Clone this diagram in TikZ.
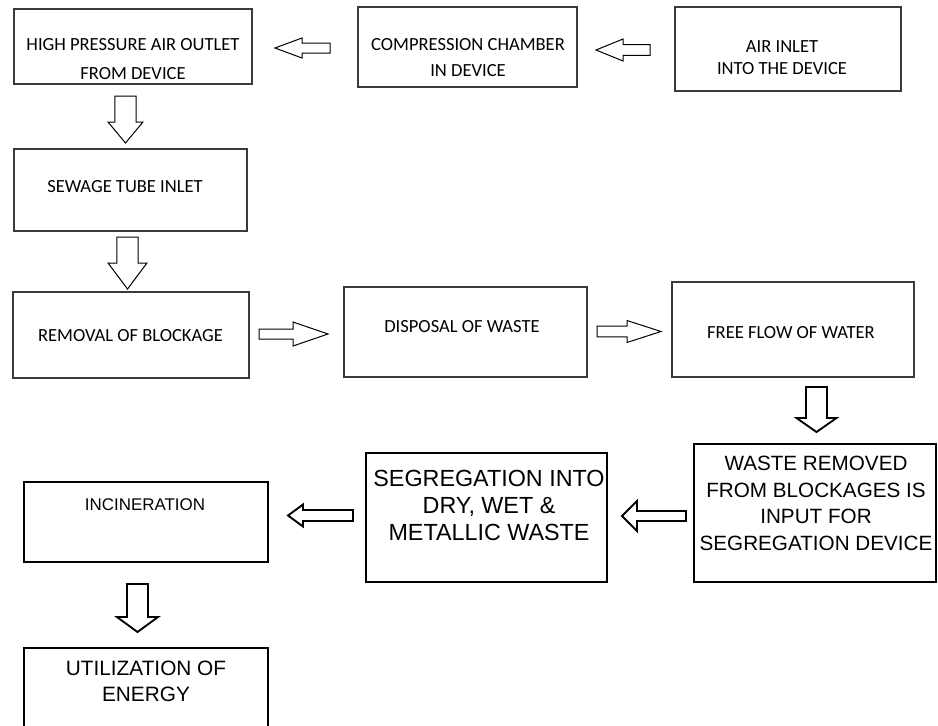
\documentclass[tikz,border=0pt]{standalone}
\usepackage{fontspec}
\setmainfont{Carlito}
\newfontfamily\arialf{Liberation Sans}
\usetikzlibrary{calc}
\definecolor{boxgray}{HTML}{3A3A3A}
\definecolor{txtc}{HTML}{000000}
\tikzset{
  topbox/.style={draw=boxgray, line width=0.9pt, inner sep=0pt, outer sep=0pt},
  botbox/.style={draw=black, line width=1.4pt, inner sep=0pt, outer sep=0pt},
  toptxt/.style={inner sep=0pt, text=txtc, align=center},
  bottxt/.style={inner sep=0pt, text=txtc, align=center},
  toparr/.style={draw=black, line width=0.75pt, fill=white, line join=miter},
  botarr/.style={draw=black, line width=1.4pt, fill=white, line join=miter},
}
\newcommand\blockarrow[6]{%
  \coordinate (hb) at ($(#3)!#6!(#2)$);
  \draw[#1] ($(#2)!#4!90:(#3)$) -- ($(hb)!#4!90:(#3)$) -- ($(hb)!#5!90:(#3)$) -- (#3)
    -- ($(hb)!#5!-90:(#3)$) -- ($(hb)!#4!-90:(#3)$) -- ($(#2)!#4!-90:(#3)$) -- cycle;
}
\begin{document}
\begin{tikzpicture}[x=0.75pt,y=-0.75pt]
\useasboundingbox (0,0) rectangle (938,725);
\fill[white] (0,0) rectangle (938,725);
\clip (0,0) rectangle (938,725);

% boxes
\node[topbox, minimum width=178.5pt, minimum height=56.25pt] (b1) at (133,46.5) {};
\node[topbox, minimum width=164.25pt, minimum height=60pt] (b2) at (467.5,47) {};
\node[topbox, minimum width=169.5pt, minimum height=63pt] (b3) at (788,49) {};
\node[topbox, minimum width=174.75pt, minimum height=61.5pt] (b4) at (130.5,190) {};
\node[topbox, minimum width=177pt, minimum height=64.5pt] (b5) at (131,335) {};
\node[topbox, minimum width=182.25pt, minimum height=67.5pt] (b6) at (465.5,332) {};
\node[topbox, minimum width=181.5pt, minimum height=71.25pt] (b7) at (793,329.5) {};
\node[botbox, minimum width=181.5pt, minimum height=103.5pt] (b8) at (815,513) {};
\node[botbox, minimum width=180.75pt, minimum height=96.75pt] (b9) at (486.5,517.5) {};
\node[botbox, minimum width=183pt, minimum height=60pt] (b10) at (146,522) {};
\node[botbox, minimum width=183pt, minimum height=69pt] (b11) at (146,694) {};

% texts
\node[toptxt, anchor=north, font=\fontsize{13.9}{21.75}\selectfont] (t1) at (133,38) {HIGH PRESSURE AIR OUTLET\\FROM DEVICE};
\node[toptxt, anchor=north, font=\fontsize{13.9}{19.5}\selectfont] (t2) at (468,38) {COMPRESSION CHAMBER\\IN DEVICE};
\node[toptxt, anchor=north, font=\fontsize{13.9}{16.5}\selectfont] (t3) at (782,40) {AIR INLET\\INTO THE DEVICE};
\node[toptxt, font=\fontsize{13.9}{16}\selectfont] (t4) at (125,187) {SEWAGE TUBE INLET};
\node[toptxt, font=\fontsize{13.9}{16}\selectfont] (t5) at (130.5,336) {REMOVAL OF BLOCKAGE};
\node[toptxt, font=\fontsize{13.9}{16}\selectfont] (t6) at (462,327) {DISPOSAL OF WASTE};
\node[toptxt, font=\fontsize{13.9}{16}\selectfont] (t7) at (791,333) {FREE FLOW OF WATER};
\node[bottxt, anchor=north, font=\arialf\fontsize{15.5}{20}\selectfont] (t8) at (816,455.7) {WASTE REMOVED\\FROM BLOCKAGES IS\\INPUT FOR\\SEGREGATION DEVICE};
\node[bottxt, anchor=north, font=\arialf\fontsize{17.5}{20.25}\selectfont] (t9) at (489,469.7) {SEGREGATION INTO\\DRY, WET \&\\METALLIC WASTE};
\node[bottxt, font=\arialf\fontsize{12.7}{15}\selectfont] (t10) at (145,505) {INCINERATION};
\node[bottxt, anchor=north, font=\arialf\fontsize{15.6}{19.5}\selectfont] (t11) at (146,660.5) {UTILIZATION OF\\ENERGY};

% arrow end points
\coordinate (a1s) at ($(b2.west)+(-28,1)$);   \coordinate (a1t) at ($(b1.east)+(23,1.5)$);
\coordinate (a2s) at ($(b3.west)+(-25,1)$);   \coordinate (a2t) at ($(b2.east)+(19,3)$);
\coordinate (a3s) at ($(b1.south)+(-7.5,12)$); \coordinate (a3t) at ($(b4.north)+(-5,-6)$);
\coordinate (a4s) at ($(b4.south)+(-3,6)$);   \coordinate (a4t) at ($(b5.north)+(-3.5,-3)$);
\coordinate (a5s) at ($(b5.east)+(10,-1)$);   \coordinate (a5t) at ($(b6.west)+(-16,2)$);
\coordinate (a6s) at ($(b6.east)+(10,-0.5)$); \coordinate (a6t) at ($(b7.west)+(-11,2)$);
\coordinate (a7s) at ($(b7.south)+(23.5,10)$); \coordinate (a7t) at ($(b8.north)+(1.5,-12)$);
\coordinate (a8s) at ($(b8.west)+(-8,3)$);    \coordinate (a8t) at ($(b9.east)+(15,-1.5)$);
\coordinate (a9s) at ($(b9.west)+(-13,-2)$);  \coordinate (a9t) at ($(b10.east)+(20,-6.5)$);
\coordinate (a10s) at ($(b10.south)+(-8.5,22)$); \coordinate (a10t) at ($(b11.north)+(-8.5,-16)$);

% block arrows
\blockarrow{toparr}{a1s}{a1t}{3.75pt}{7.5pt}{20.25pt}
\blockarrow{toparr}{a2s}{a2t}{4.1pt}{8.25pt}{20.25pt}
\blockarrow{toparr}{a3s}{a3t}{7.9pt}{13.1pt}{15.75pt}
\blockarrow{toparr}{a4s}{a4t}{7.9pt}{14.6pt}{19.5pt}
\blockarrow{toparr}{a5s}{a5t}{3.75pt}{9pt}{26.25pt}
\blockarrow{toparr}{a6s}{a6t}{4.1pt}{8.25pt}{25.5pt}
\blockarrow{botarr}{a7s}{a7t}{7.9pt}{15pt}{10.5pt}
\blockarrow{botarr}{a8s}{a8t}{3.75pt}{11.25pt}{11.25pt}
\blockarrow{botarr}{a9s}{a9t}{4.1pt}{8.25pt}{11.25pt}
\blockarrow{botarr}{a10s}{a10t}{7.9pt}{15.4pt}{11.25pt}
\end{tikzpicture}
\end{document}
